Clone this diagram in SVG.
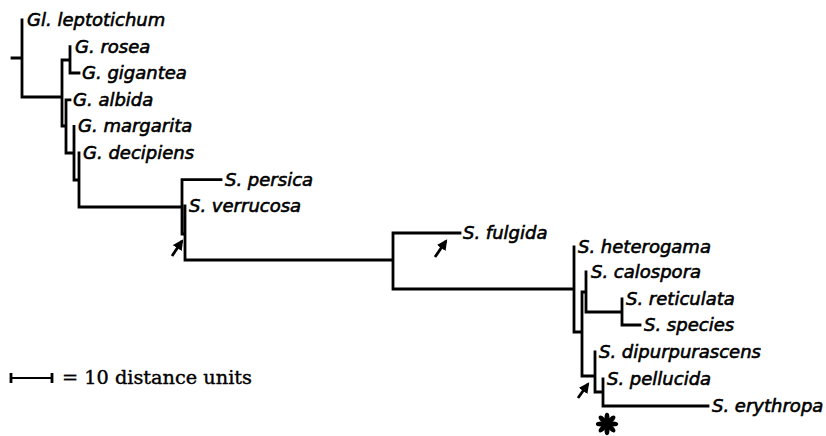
<svg xmlns="http://www.w3.org/2000/svg" width="826" height="436" viewBox="0 0 826 436">
<defs>
<style>
.br{fill:none;stroke:#000;stroke-width:2.8;stroke-linecap:square;stroke-linejoin:miter}
.lb{font-family:"DejaVu Sans","Liberation Sans",sans-serif;font-style:italic;font-size:18px;fill:#000;stroke:#000;stroke-width:0.6}
.ar{fill:none;stroke:#000;stroke-width:2.8}
.sc{font-family:"DejaVu Serif","Liberation Serif",serif;font-size:19.3px;fill:#000;stroke:#000;stroke-width:0.4}
.pt{fill:#000}
</style>
<marker id="ah" viewBox="0 0 10 10" refX="8" refY="5" markerWidth="3.8" markerHeight="3.8" orient="auto" markerUnits="strokeWidth">
<path d="M0,0 L10,5 L0,10 z" fill="#000"/>
</marker>
</defs>
<rect width="826" height="436" fill="#fff"/>
<g id="connectors">
<path class="br" d="M12,58 H22 M22,20 V97 H62 M62,60 V126 M62,60 H70 M70,46.6 V73 H79 M62,126 H66 M66,99.8 V153 M66,99.8 H70 M66,153 H74 M74,126.4 V180 H79 M79,153 V207 H182 M182,179.6 V234 M182,179.6 H221 M182,234 H185 M185,206 V260 H393 M393,233 V289 M393,233 H460 M393,289 H574 M574,247 V332 H582 M582,292 V376 M582,292 H586 M586,272 V312 H622 M622,299 V325 H640 M582,376 H595 M595,352 V392 H603 M603,379 V406 H708"/>
<path class="ar" d="M172,256 L182,241" marker-end="url(#ah)"/>
<path class="ar" d="M435,257 L446,241" marker-end="url(#ah)"/>
<path class="ar" d="M578,398 L588,384" marker-end="url(#ah)"/>
</g>
<g id="n-leptotichum"><text class="lb" x="27" y="26">Gl. leptotichum</text></g>
<g id="n-rosea"><text class="lb" x="75" y="52.6">G. rosea</text></g>
<g id="n-gigantea"><text class="lb" x="82" y="79">G. gigantea</text></g>
<g id="n-albida"><text class="lb" x="73" y="105.8">G. albida</text></g>
<g id="n-margarita"><text class="lb" x="78" y="132.4">G. margarita</text></g>
<g id="n-decipiens"><text class="lb" x="83" y="159">G. decipiens</text></g>
<g id="n-persica"><text class="lb" x="225" y="185.6">S. persica</text></g>
<g id="n-verrucosa"><text class="lb" x="189" y="212">S. verrucosa</text></g>
<g id="n-fulgida"><text class="lb" x="463" y="239">S. fulgida</text></g>
<g id="n-heterogama"><text class="lb" x="578" y="253">S. heterogama</text></g>
<g id="n-calospora"><text class="lb" x="591" y="278">S. calospora</text></g>
<g id="n-reticulata"><text class="lb" x="626" y="305">S. reticulata</text></g>
<g id="n-species"><text class="lb" x="644" y="331">S. species</text></g>
<g id="n-dipurpurascens"><text class="lb" x="599" y="358">S. dipurpurascens</text></g>
<g id="n-pellucida"><text class="lb" x="607" y="385">S. pellucida</text></g>
<g id="n-erythropa"><text class="lb" x="712" y="412">S. erythropa</text></g>
<g id="asterisk" transform="translate(607,424)">
<ellipse class="pt" cx="0" cy="-6" rx="2.5" ry="5.2"/>
<ellipse class="pt" cx="0" cy="-6" rx="2.5" ry="5.2" transform="rotate(45)"/>
<ellipse class="pt" cx="0" cy="-6" rx="2.5" ry="5.2" transform="rotate(90)"/>
<ellipse class="pt" cx="0" cy="-6" rx="2.5" ry="5.2" transform="rotate(135)"/>
<ellipse class="pt" cx="0" cy="-6" rx="2.5" ry="5.2" transform="rotate(180)"/>
<ellipse class="pt" cx="0" cy="-6" rx="2.5" ry="5.2" transform="rotate(225)"/>
<ellipse class="pt" cx="0" cy="-6" rx="2.5" ry="5.2" transform="rotate(270)"/>
<ellipse class="pt" cx="0" cy="-6" rx="2.5" ry="5.2" transform="rotate(315)"/>
<circle class="pt" r="2.5"/>
</g>
<g id="scale">
<path class="br" d="M11,373 V383 M52,373 V383" style="stroke-linecap:butt"/>
<path d="M11,378 H52" fill="none" stroke="#000" stroke-width="2.2"/>
<text class="sc" x="62" y="384">= 10 distance units</text>
</g>
</svg>
